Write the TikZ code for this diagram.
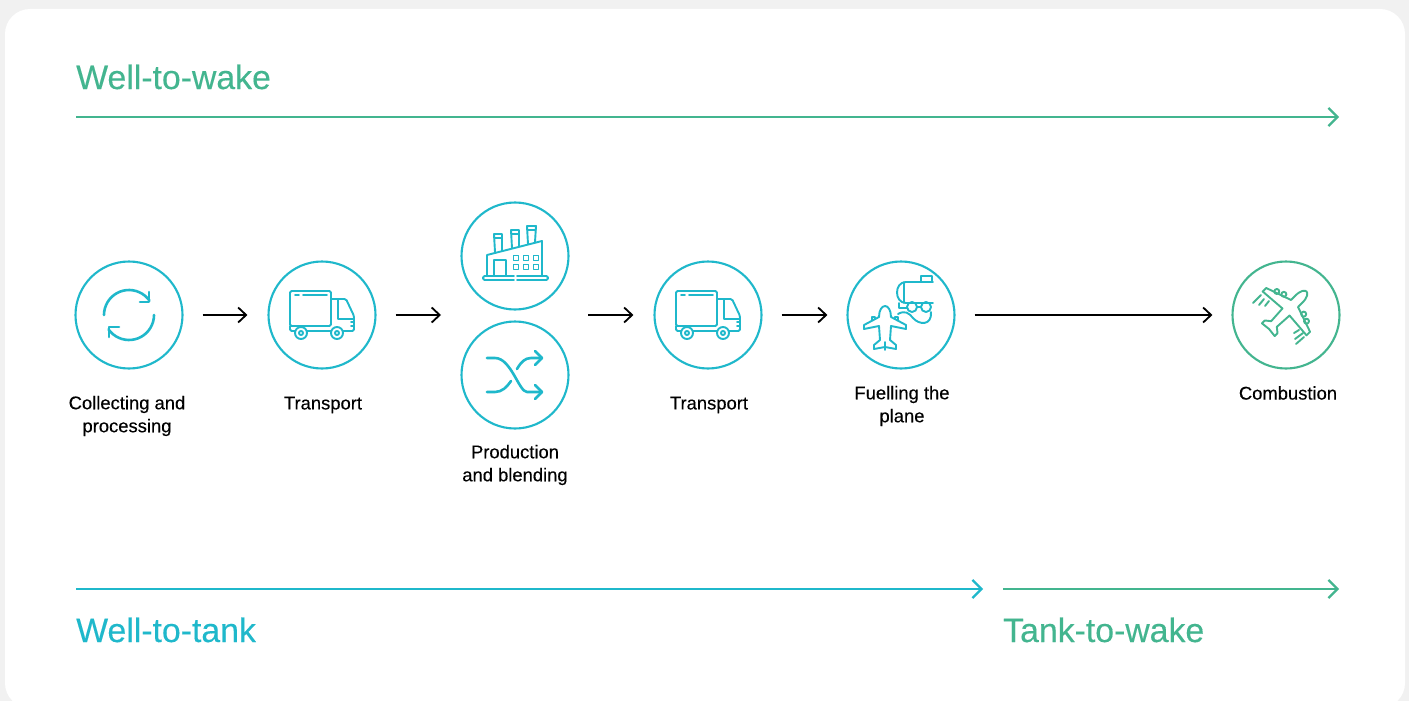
\documentclass[tikz,border=0pt]{standalone}
\usepackage{xcolor}
\usepackage{fontspec}
\setmainfont{Liberation Sans}
\newfontfamily\stagefont[FakeBold=0.25]{Liberation Sans}
\usetikzlibrary{arrows.meta,positioning}
\definecolor{tealc}{HTML}{1FB8CB}
\definecolor{greenc}{HTML}{43B58F}
\definecolor{panelgray}{HTML}{F1F1F1}
\tikzset{
	stagecircle/.style={circle,draw=#1,line width=2.1pt,minimum size=107pt,inner sep=0pt},
	iconline/.style={line width=2.6pt,line cap=round,line join=round},
	thinline/.style={line width=1.9pt,line cap=round,line join=round},
	stagelabel/.style={font=\stagefont\fontsize{18.4}{23}\selectfont,align=center,inner sep=0pt,text=black},
	phaselabel/.style={font=\stagefont\fontsize{33.8}{36}\selectfont,anchor=base west,inner sep=0pt},
	phasearrow/.style={line width=2.6pt,-{Straight Barb[length=9pt,width=18pt,line width=2.2pt]}},
	steparrow/.style={line width=1.8pt,-{Straight Barb[length=8pt,width=15pt,line width=1.8pt]}},
	truckicon/.pic={
		\draw[thinline,rounded corners=1.5pt] (9,11) -- (-32,11) -- (-32,-24) -- (9,-24) -- cycle;
		\draw[thinline] (-27,-20) -- (-23,-20) (-19,-20) -- (5,-20);
		\draw[thinline,rounded corners=1.5pt] (9,-16) -- (24,-16) -- (32,1) -- (32,16) -- (21,16);
		\draw[thinline] (16,-16) -- (16,4) -- (31,4);
		\draw[thinline] (29,7) -- (32,7) (29,11) -- (32,11);
		\draw[thinline,rounded corners=1.5pt] (-32,11) -- (-32,16) -- (-27,16);
		\draw[thinline] (-15,16) -- (9,16);
		\draw[thinline] (-21,18) circle (6) (-21,18) circle (2);
		\draw[thinline] (15,18) circle (6) (15,18) circle (2);
	},
}

\begin{document}
\begin{tikzpicture}[x=1pt,y=-1pt]

	\useasboundingbox (0,0) rectangle (1409,701);
	\fill[panelgray] (0,0) rectangle (1409,701);
	\fill[white,rounded corners=25pt] (5,9) rectangle (1405,708);

	\node[phaselabel,text=greenc] (welltowake) at (76,89) {Well-to-wake};
	\node[phaselabel,text=tealc] (welltotank) at (76,642) {Well-to-tank};
	\node[phaselabel,text=greenc] (tanktowake) at (1003,642) {Tank-to-wake};

	\coordinate (wakestart) at (76,117);
	\coordinate (wakeend) at (1339,117);
	\coordinate (tankstart) at (76,589);
	\coordinate (tankend) at (983,589);
	\coordinate (burnstart) at (1003,589);
	\coordinate (burnend) at (1339,589);

	\draw[phasearrow,greenc] (wakestart) -- (wakeend);
	\draw[phasearrow,tealc] (tankstart) -- (tankend);
	\draw[phasearrow,greenc] (burnstart) -- (burnend);

	\node[stagecircle=tealc] (collect) at (129,315) {};
	\node[stagecircle=tealc] (truckone) at (322,315) {};
	\node[stagecircle=tealc] (factory) at (515,256) {};
	\node[stagecircle=tealc] (blend) at (515,375) {};
	\node[stagecircle=tealc] (trucktwo) at (708,315) {};
	\node[stagecircle=tealc] (fuel) at (901,315) {};
	\node[stagecircle=greenc] (combust) at (1286,315) {};
	\coordinate (prodmid) at (515,315);

	\foreach \a/\b/\sa/\sb in {collect/truckone/19/20,truckone/prodmid/19/74,prodmid/trucktwo/73/20,trucktwo/fuel/19/19,fuel/combust/19/19}
		{
		\draw[steparrow,shorten <=\sa pt,shorten >=\sb pt] (\a) -- (\b);
		}

	\node[stagelabel] (collectlabel) at (127,416) {Collecting and\\processing};
	\node[stagelabel] (truckonelabel) at (323,405) {Transport};
	\node[stagelabel] (blendlabel) at (515,465) {Production\\and blending};
	\node[stagelabel] (trucktwolabel) at (709,405) {Transport};
	\node[stagelabel] (fuellabel) at (902,406) {Fuelling the\\plane};
	\node[stagelabel] (combustlabel) at (1288,393) {Combustion};

	\begin{scope}[shift={(collect.center)},tealc,iconline]
		\draw plot[smooth,domain=180:325,samples=20,variable=\x] ({25*cos(\x)},{25*sin(\x)});
		\draw plot[smooth,domain=0:145,samples=20,variable=\x] ({25*cos(\x)},{25*sin(\x)});
		\draw (11,-13) -- (20,-13) -- (20,-23);
		\draw (-10,12) -- (-20,12) -- (-20,22);
	\end{scope}

	\pic[tealc] at (truckone.center) {truckicon};
	\pic[tealc] at (trucktwo.center) {truckicon};

	\begin{scope}[shift={(factory.center)},tealc,thinline]
		\draw[rounded corners=1.5pt] (-1,20) -- (-32,20) -- (-32,24) -- (-1,24);
		\draw[rounded corners=1.5pt] (2,24) -- (33,24) -- (33,20) -- (2,20);
		\draw (-28,19) -- (-28,-1) -- (27,-15) -- (27,19);
		\draw (-21,19) -- (-21,4) -- (-9,4) -- (-9,19);
		\foreach \x in {1,11,21}
			\foreach \y in {2,11}
				{
				\draw (\x-2.5,\y-2.5) rectangle (\x+2.5,\y+2.5);
				}
		\draw (-20,-4) -- (-21,-22) -- (-13,-22) -- (-13,-5) (-21,-18) -- (-13,-18);
		\draw (-3,-8) -- (-4,-26) -- (4,-26) -- (4,-10) (-4,-22) -- (4,-22);
		\draw (13,-12) -- (12,-30) -- (21,-30) -- (20,-14) (12,-26) -- (21,-26);
	\end{scope}

	\begin{scope}[shift={(blend.center)},tealc,iconline]
		\draw (-28,-17) -- (-20,-17) .. controls (-4,-17) and (4,17) .. (12,17) -- (27,17);
		\draw (20,10) -- (27,17) -- (20,24);
		\draw (-28,17) -- (-20,17) .. controls (-13,17) and (-8,12) .. (-4,6);
		\draw (2,-6) .. controls (6,-13) and (10,-17) .. (16,-17) -- (27,-17);
		\draw (20,-24) -- (27,-17) -- (20,-10);
	\end{scope}

	\begin{scope}[shift={(fuel.center)},tealc,thinline]
		\draw (32,-33) -- (5,-33) .. controls (-7,-33) and (-7,-12) .. (5,-12) -- (32,-12);
		\draw (3,-33) -- (3,-12);
		\draw (20,-34) -- (20,-39) -- (31,-39) -- (31,-34);
		\draw (-2,-12) -- (-2,-7) -- (6,-7);
		\draw (11,-8) circle (5) (25,-8) circle (5);
		\draw (16,-8) -- (20,-8);
		\draw (-3,-1) .. controls (4,-5) and (8,-2) .. (12,3) .. controls (18,10) and (31,11) .. (30,-3);
		\begin{scope}[shift={(-16,0)}]
			\draw (-6,2) .. controls (-6,-5) and (-3,-9) .. (0,-9) .. controls (3,-9) and (6,-5) .. (6,2)
				-- (21,10) -- (21,14) -- (6,11) -- (5,25) -- (11,30) -- (11,34) -- (0,32)
				-- (-11,34) -- (-11,30) -- (-5,25) -- (-6,11) -- (-21,14) -- (-21,10) -- cycle;
			\draw (0,27) -- (0,35);
			\draw (-13,5) -- (-13,2) -- (-10,2) -- (-10,4);
			\draw (13,5) -- (13,2) -- (10,2) -- (10,4);
		\end{scope}
	\end{scope}

	\begin{scope}[shift={(combust.center)},greenc,thinline]
		\draw (-33,-12) -- (-25,-20) (-27,-10) -- (-22,-16) (-21,-9) -- (-17,-14);
		\draw (10,29) -- (18,22) (9,24) -- (17,18) (8,18) -- (13,15);
		\begin{scope}[shift={(0,-3)},rotate=-45]
			\draw (-5,-18) .. controls (-5,-26) and (-2,-29) .. (0,-29) .. controls (2,-29) and (5,-26) .. (5,-18)
				-- (5,-12) -- (31,-3) -- (31,2) -- (5,0) -- (4,17) -- (9,21) -- (9,25) -- (0,24)
				-- (-9,25) -- (-9,21) -- (-4,17) -- (-5,0) -- (-31,2) -- (-31,-3) -- (-5,-12) -- cycle;
			\draw (-21,-8) circle (2.5) (-14,-11) circle (2.5);
			\draw (21,-8) circle (2.5) (14,-11) circle (2.5);
		\end{scope}
	\end{scope}

\end{tikzpicture}
\end{document}
